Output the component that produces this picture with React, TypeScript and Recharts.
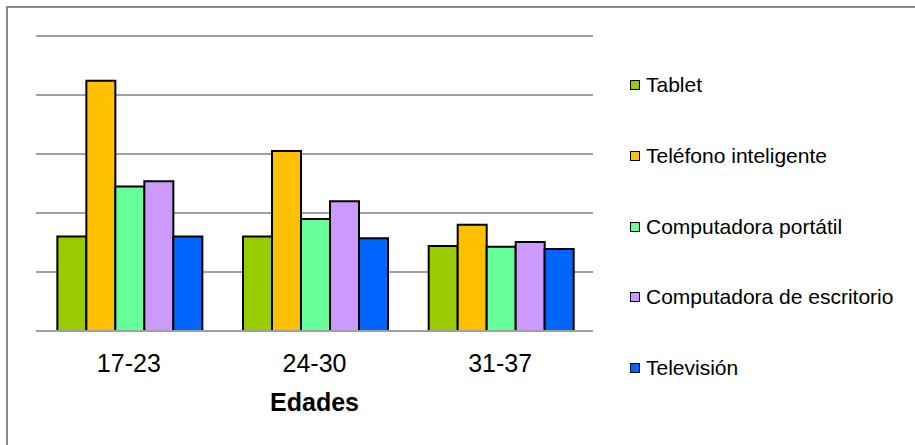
import { BarChart, Bar, XAxis, YAxis, CartesianGrid } from 'recharts'

// Grupos de edad en el eje X
const edades = ['17-23', '24-30', '31-37']

// Valores por dispositivo (unidades de la cuadrícula)
const tablet = [1.6, 1.6, 1.44]
const telefono = [4.24, 3.05, 1.8]
const portatil = [2.45, 1.9, 1.43]
const escritorio = [2.54, 2.2, 1.51]
const television = [1.6, 1.57, 1.39]

const yTicks = [0, 1, 2, 3, 4, 5]

const SERIES = [
  { key: 'tablet', name: 'Tablet', color: '#99CC00', values: tablet },
  { key: 'telefono', name: 'Teléfono inteligente', color: '#FFC000', values: telefono },
  { key: 'portatil', name: 'Computadora portátil', color: '#66FF99', values: portatil },
  { key: 'escritorio', name: 'Computadora de escritorio', color: '#CC99FF', values: escritorio },
  { key: 'television', name: 'Televisión', color: '#0066FF', values: television },
]

const data = edades.map((edad, i) => {
  const row: Record<string, string | number> = { edad }
  SERIES.forEach((s) => { row[s.key] = s.values[i] })
  return row
})

const FONT = '"Liberation Sans", Arial, sans-serif'
const GRID = '#a0a0a0'

function Leyenda() {
  return (
    <div style={{ position: 'absolute', left: 630, top: 85, fontFamily: FONT, fontSize: 21, color: '#000' }}>
      {SERIES.map((s, i) => (
        <div key={s.key} style={{ position: 'absolute', top: i * 70.8, transform: 'translateY(-50%)', display: 'flex', alignItems: 'center', whiteSpace: 'nowrap' }}>
          <span style={{ width: 8, height: 8, border: '1.5px solid #000', background: s.color, display: 'inline-block', marginRight: 6 }} />
          <span>{s.name}</span>
        </div>
      ))}
    </div>
  )
}

export default function App() {
  return (
    <div style={{ position: 'fixed', left: 0, top: 0, width: 915, height: 445, background: '#fff', overflow: 'hidden' }}>
      <div style={{ position: 'absolute', left: 6, top: 6, right: 0, bottom: 0, borderLeft: '2px solid #878787', borderTop: '2px solid #878787' }} />
      <BarChart
        width={915}
        height={445}
        data={data}
        margin={{ top: 36, right: 322, left: 36, bottom: 74 }}
        barCategoryGap="11.5%"
        barGap={0}
        style={{ position: 'absolute', left: 0, top: 0 }}
      >
        <CartesianGrid horizontal vertical={false} stroke={GRID} strokeWidth={2} />
        <YAxis hide domain={[0, 5]} ticks={yTicks} />
        <XAxis
          dataKey="edad"
          height={40}
          tickLine={false}
          tickSize={6}
          tickMargin={17}
          axisLine={{ stroke: GRID, strokeWidth: 2 }}
          tick={{ fontSize: 25, fill: '#000', fontFamily: FONT }}
          label={{ value: 'Edades', position: 'bottom', offset: 22, fontSize: 25, fontWeight: 'bold', fill: '#000', fontFamily: FONT }}
        />
        {SERIES.map((s) => (
          <Bar key={s.key} dataKey={s.key} name={s.name} fill={s.color} stroke="#000" strokeWidth={2} isAnimationActive={false} />
        ))}
      </BarChart>
      <Leyenda />
    </div>
  )
}
